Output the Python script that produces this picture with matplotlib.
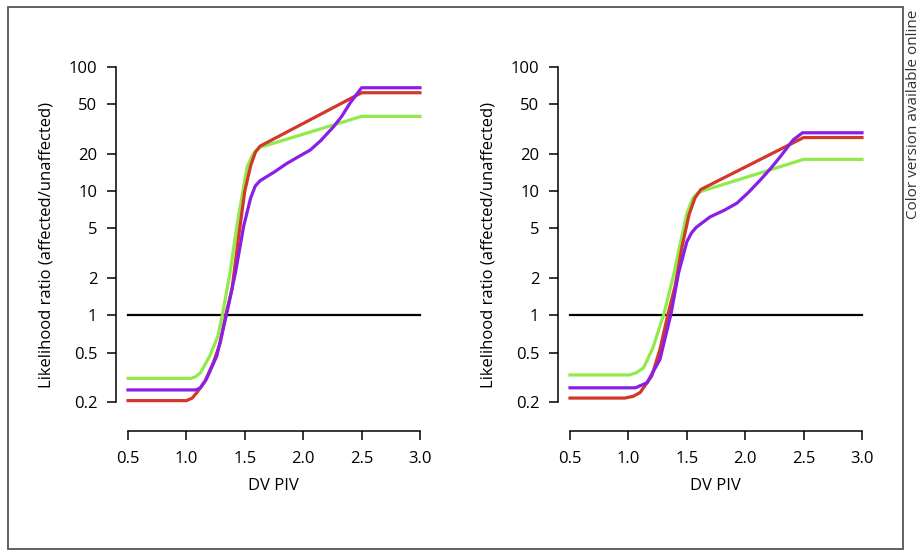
import matplotlib
matplotlib.use("Agg")
import matplotlib.pyplot as plt
from matplotlib.patches import Rectangle

plt.rcParams['font.family'] = ['Open Sans', 'DejaVu Sans']

# Left panel curves
left_red_x = [0.5, 1.0, 1.05, 1.09, 1.16, 1.23, 1.29, 1.34, 1.39, 1.45, 1.50, 1.55, 1.59, 1.63, 2.5, 3.0]
left_red_y = [0.205, 0.205, 0.215, 0.238, 0.295, 0.414, 0.60, 1.03, 1.62, 4.5, 10, 16, 20.5, 23, 62, 62]
left_green_x = [0.5, 1.04, 1.08, 1.12, 1.20, 1.27, 1.31, 1.37, 1.44, 1.52, 1.56, 1.59, 1.63, 2.5, 3.0]
left_green_y = [0.31, 0.31, 0.32, 0.344, 0.469, 0.68, 1.03, 2.1, 5.8, 15.7, 19, 21, 22.5, 40, 40]
left_purple_x = [0.5, 1.08, 1.12, 1.17, 1.26, 1.345, 1.42, 1.49, 1.55, 1.59, 1.63, 1.75, 1.86, 1.95,
                 2.06, 2.15, 2.26, 2.33, 2.40, 2.5, 3.0]
left_purple_y = [0.25, 0.25, 0.26, 0.304, 0.469, 1.03, 2.2, 5.2, 8.8, 11, 12.1, 14.2, 16.7, 18.7,
                 21.4, 25.5, 33, 40, 51, 68, 68]

# Right panel curves
right_red_x = [0.5, 0.97, 1.04, 1.10, 1.20, 1.27, 1.34, 1.40, 1.46, 1.52, 1.57, 1.62, 2.5, 3.0]
right_red_y = [0.215, 0.215, 0.222, 0.238, 0.324, 0.53, 1.03, 1.72, 3.6, 6.5, 8.8, 10.3, 27, 27]
right_green_x = [0.5, 1.01, 1.07, 1.13, 1.21, 1.305, 1.385, 1.45, 1.50, 1.55, 1.59, 1.63, 2.5, 3.0]
right_green_y = [0.33, 0.33, 0.345, 0.377, 0.547, 1.03, 2.07, 4.0, 6.6, 8.7, 9.6, 10, 18, 18]
right_purple_x = [0.5, 1.06, 1.16, 1.27, 1.365, 1.43, 1.50, 1.54, 1.58, 1.70, 1.82, 1.93, 2.03,
                  2.13, 2.22, 2.30, 2.41, 2.49, 3.0]
right_purple_y = [0.26, 0.26, 0.286, 0.44, 1.03, 2.2, 3.9, 4.6, 5.1, 6.2, 7.0, 8.0, 9.8,
                  12.3, 15.3, 18.9, 25.8, 29.5, 29.5]

y_ticks = [0.2, 0.5, 1, 2, 5, 10, 20, 50, 100]
y_tick_labels = ["0.2", "0.5", "1", "2", "5", "10", "20", "50", "100"]
x_ticks = [0.5, 1.0, 1.5, 2.0, 2.5, 3.0]
x_tick_labels = ["0.5", "1.0", "1.5", "2.0", "2.5", "3.0"]

RED = "#d2382a"
GREEN = "#8fea4a"
PURPLE = "#8a1ee6"

W, H = 922, 552
fig = plt.figure(figsize=(W / 100, H / 100), dpi=100)


def panel(left_px, red, green, purple):
    # axes box in pixels: y spine at left_px, x spine at y=431
    ax = fig.add_axes([left_px / W, 1 - 431 / H, 314 / W, 371 / H])
    ax.set_yscale("log")
    ax.set_xlim(0.397, 3.086)
    ax.set_ylim(0.1167, 113.8)

    ax.plot([0.5, 3.0], [1, 1], color="black", lw=1.6)
    ax.plot(*green, color=GREEN, lw=2.3, solid_joinstyle="round")
    ax.plot(*red, color=RED, lw=2.3, solid_joinstyle="round")
    ax.plot(*purple, color=PURPLE, lw=2.3, solid_joinstyle="round")

    for s in ["top", "right"]:
        ax.spines[s].set_visible(False)
    ax.spines["left"].set_bounds(0.2, 100)
    ax.spines["bottom"].set_bounds(0.5, 3.0)
    for s in ["left", "bottom"]:
        ax.spines[s].set_linewidth(1.1)

    ax.set_yticks(y_ticks)
    ax.set_yticklabels(y_tick_labels)
    ax.yaxis.set_minor_locator(matplotlib.ticker.NullLocator())
    ax.set_xticks(x_ticks)
    ax.set_xticklabels(x_tick_labels)
    ax.tick_params(axis="both", length=6.5, width=1.1, labelsize=12)
    ax.tick_params(axis="y", pad=7)
    ax.tick_params(axis="x", pad=8)

    ax.set_xlabel("DV PIV", fontsize=12, labelpad=8)
    ax.set_ylabel("Likelihood ratio (affected/unaffected)", fontsize=12, labelpad=10)
    ax.patch.set_alpha(0)
    return ax


panel(116, (left_red_x, left_red_y), (left_green_x, left_green_y), (left_purple_x, left_purple_y))
panel(558, (right_red_x, right_red_y), (right_green_x, right_green_y), (right_purple_x, right_purple_y))

fig.patches.append(Rectangle((8 / W, 1 - 549 / H), 895 / W, 542 / H, transform=fig.transFigure,
                             fill=False, edgecolor="#555555", lw=1.3))
fig.text(913 / W, 1 - 114 / H, "Color version available online", rotation=90,
         ha="center", va="center", fontsize=11, color="#333333")

fig.savefig("out.png", dpi=100)
